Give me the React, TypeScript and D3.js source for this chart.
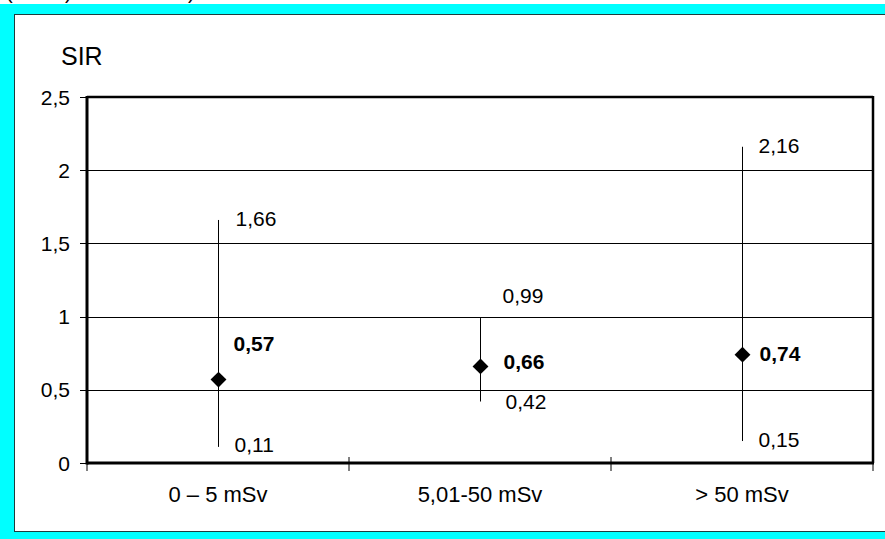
import React from "react";
import * as d3 from "d3";

// dose groups and SIR with 95% CI
const categories = ["0 – 5 mSv", "5,01-50 mSv", "> 50 mSv"];
const sirValues = [0.57, 0.66, 0.74];
const ciLow = [0.11, 0.42, 0.15];
const ciHigh = [1.66, 0.99, 2.16];
const yTicks = [0, 0.5, 1, 1.5, 2, 2.5];

// hand placed label offsets (dx, dy) relative to the mark, like in the original sheet
const meanLabelOffset = [[15, -29], [23, 3], [17, 6]];
const highLabelOffset = [[17, 6], [22, -15], [16, 6]];
const lowLabelOffset = [[16, 5], [25, 7], [16, 6]];

const fmt = (v: number) => String(v).replace(".", ",");

function App() {
  const W = 885;
  const H = 539;
  const left = 87;
  const right = 873;
  const top = 97;
  const bottom = 463;
  const font = "Arial, 'Liberation Sans', sans-serif";

  const x = d3.scaleBand().domain(categories).range([left, right]);
  const y = d3.scaleLinear().domain([0, 2.5]).range([bottom, top]);
  const diamond = d3.symbol().type(d3.symbolDiamond2).size(160)();

  const xEdges = [...categories.map((c) => x(c)!), right];

  return (
    <svg
      width={W}
      height={H}
      style={{ position: "absolute", left: 0, top: 0, background: "#fff" }}
    >
      {/* cut-off text from above */}
      <g fontFamily={font} fontSize={20} fill="#000">
        <text x={6} y={-1}>(</text>
        <text x={65} y={-1}>)</text>
        <text x={188} y={-1}>)</text>
      </g>
      {/* cyan frame */}
      <rect x={0} y={4} width={W} height={H - 4} fill="#00ffff" />
      <rect x={14.5} y={14.5} width={W} height={517} fill="#fff" stroke="#1e3c3c" strokeWidth={1} />

      <text x={61} y={65} fontFamily={font} fontSize={25}>SIR</text>

      {/* grid lines */}
      {yTicks.slice(1, -1).map((t) => (
        <line key={t} x1={left} x2={right} y1={Math.round(y(t)) + 0.5} y2={Math.round(y(t)) + 0.5} stroke="#000" strokeWidth={1} />
      ))}

      {/* y ticks and labels */}
      {yTicks.map((t) => (
        <g key={t}>
          <line x1={80} x2={left} y1={Math.round(y(t)) + 0.5} y2={Math.round(y(t)) + 0.5} stroke="#000" />
          <text x={70} y={y(t)} dy="0.36em" textAnchor="end" fontFamily={font} fontSize={21}>
            {fmt(t)}
          </text>
        </g>
      ))}

      {/* x ticks and labels */}
      {xEdges.map((e, i) => (
        <line key={i} x1={e} x2={e} y1={bottom - 6} y2={bottom + 8} stroke="#000" />
      ))}
      {categories.map((c) => (
        <text key={c} x={x(c)! + x.bandwidth() / 2} y={502} textAnchor="middle" fontFamily={font} fontSize={22}>
          {c}
        </text>
      ))}

      {/* plot border */}
      <line x1={left} x2={right} y1={top} y2={top} stroke="#000" strokeWidth={2.5} />
      <line x1={right} x2={right} y1={top - 1} y2={bottom} stroke="#000" strokeWidth={2.5} />
      <line x1={left} x2={left} y1={top - 1} y2={bottom + 1.5} stroke="#000" strokeWidth={3} />
      <line x1={left} x2={right + 1} y1={bottom} y2={bottom} stroke="#000" strokeWidth={3} />

      {/* error bars, points and labels */}
      {categories.map((c, i) => {
        const cx = Math.round(x(c)! + x.bandwidth() / 2) + 0.5;
        return (
          <g key={c} fontFamily={font} fontSize={21}>
            <line x1={cx} x2={cx} y1={y(ciHigh[i])} y2={y(ciLow[i])} stroke="#000" strokeWidth={1} />
            <path d={diamond} transform={`translate(${cx},${y(sirValues[i])})`} fill="#000" />
            <text x={cx + meanLabelOffset[i][0]} y={y(sirValues[i]) + meanLabelOffset[i][1]} fontWeight="bold">
              {fmt(sirValues[i])}
            </text>
            <text x={cx + highLabelOffset[i][0]} y={y(ciHigh[i]) + highLabelOffset[i][1]}>
              {fmt(ciHigh[i])}
            </text>
            <text x={cx + lowLabelOffset[i][0]} y={y(ciLow[i]) + lowLabelOffset[i][1]}>
              {fmt(ciLow[i])}
            </text>
          </g>
        );
      })}
    </svg>
  );
}

export default App;
